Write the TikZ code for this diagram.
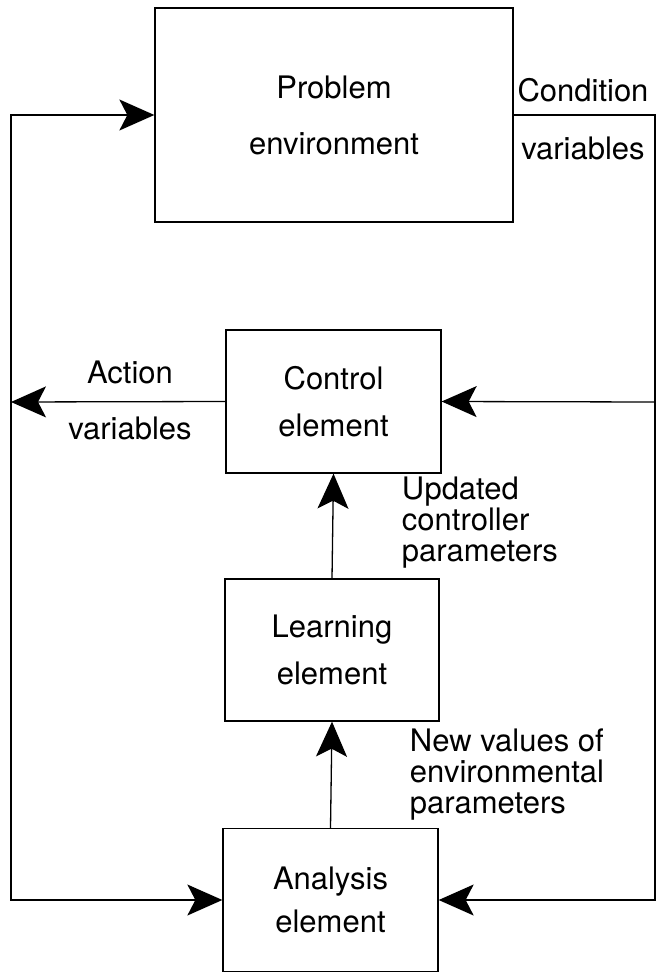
\documentclass[tikz,border=0pt]{standalone}
\usepackage{fontspec}
\setmainfont{TeX Gyre Heros}
\usetikzlibrary{arrows.meta}
\begin{document}
\begin{tikzpicture}[x=1pt,y=-1pt,line width=1.3pt,
    caja/.style={draw,align=center,font=\fontsize{31}{47}\selectfont},
    flecha/.style={-{Stealth[length=35pt,width=31pt,inset=8pt]}},
    etiqueta/.style={font=\fontsize{31}{31}\selectfont}]
    \useasboundingbox (0,0) rectangle (659,973);

    % Cajas
    \node[caja,minimum width=358pt,minimum height=214pt,font=\fontsize{31}{56}\selectfont] (prob) at (334,115) {Problem\\environment};
    \node[caja,minimum width=215pt,minimum height=143pt] (ctrl) at (333.5,401.5) {Control\\element};
    \node[caja,minimum width=214pt,minimum height=142pt] (learn) at (332,650) {Learning\\element};
    \node[caja,minimum width=215pt,minimum height=143pt,font=\fontsize{31}{43}\selectfont] (ana) at (330.5,900) {Analysis\\element};

    % Puntos de las lineas exteriores
    \coordinate (izq) at (11,402);
    \coordinate (der) at (655,402);

    % Flechas
    \draw[flecha] (ctrl.west) -- (izq);
    \draw[flecha] (izq) |- (prob.west);
    \draw[flecha] (izq) |- (ana.west);
    \draw (prob.east) -| (der);
    \draw[flecha] (der) -- (ctrl.east);
    \draw[flecha] (der) |- (ana.east);
    \draw[flecha] (learn.north) -- (ctrl.south);
    \draw[flecha] (ana.north) -- (learn.south);

    % Etiquetas
    \node[etiqueta] (cond) at (583,90) {Condition};
    \node[etiqueta] (condvar) at (583,148) {variables};
    \node[etiqueta] (acc) at (130,372) {Action};
    \node[etiqueta] (accvar) at (130,428) {variables};
    \node[etiqueta,align=left,anchor=west] (upd) at (398,523) {Updated\\controller\\parameters};
    \node[etiqueta,align=left,anchor=west] (nuev) at (406,775) {New values of\\environmental\\parameters};
\end{tikzpicture}
\end{document}
